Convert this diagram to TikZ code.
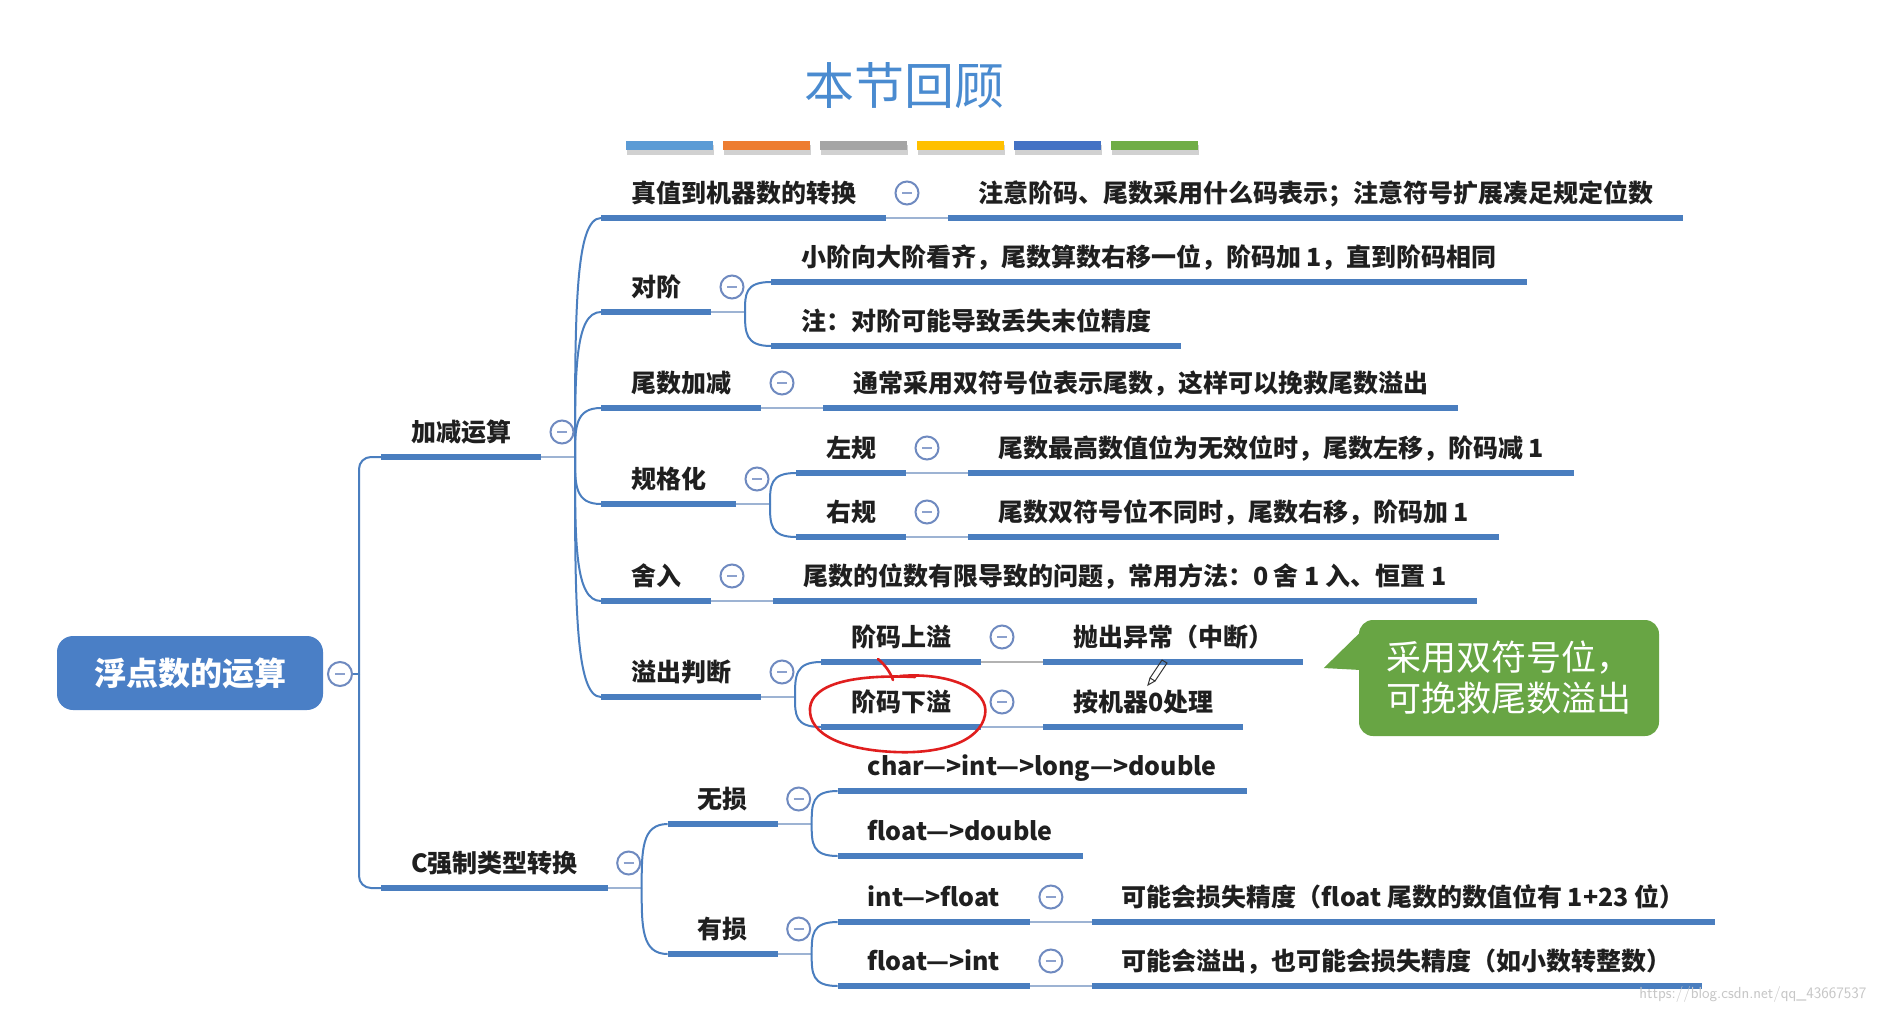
\documentclass[tikz,border=0pt]{standalone}
\usepackage{fontspec}
\newfontfamily\cjk{Noto Sans CJK SC}
\usetikzlibrary{calc}
\definecolor{lineblue}{HTML}{4A7EBF}
\definecolor{thinblue}{HTML}{9DB3D3}
\definecolor{foldcol}{HTML}{6F8AC0}
\definecolor{rootblue}{HTML}{4A7FC6}
\definecolor{titleblue}{HTML}{4A8BD0}
\definecolor{callgreen}{HTML}{68A544}
\definecolor{barA}{HTML}{5B9BD5}
\definecolor{barB}{HTML}{ED7D31}
\definecolor{barC}{HTML}{A5A5A5}
\definecolor{barD}{HTML}{FFC000}
\definecolor{barE}{HTML}{4472C4}
\definecolor{barF}{HTML}{70AD47}
\definecolor{redpen}{HTML}{E01E1E}
\newcommand\jct[1]{\coordinate (#1-j) at ([xshift=34pt]#1.south east); \draw[thinl] (#1.south east) -- (#1-j);}
\newcommand\brc[2]{\draw[conn] (#1-j) .. controls ($(#1-j)!0.6!(#1-j |- #2.south west)$) and (#1-j |- #2.south west) .. (#2.south west);}
\newcommand\lfc[2]{\draw[thinl] (#1.south east) -- (#2.south west);}
\newcommand\fldc[1]{\node[foldnode] (#1-f) at ([xshift=21pt]#1.east) {};}
\begin{document}
\begin{tikzpicture}[x=1pt,y=-1pt,
  topic/.style={anchor=south west, inner xsep=30pt, inner ysep=12pt, text height=22pt, text depth=4pt,
    font=\cjk\bfseries\fontsize{25}{30}\selectfont, text=black!88, outer sep=0pt},
  uline/.style={draw=lineblue, line width=5.5pt},
  conn/.style={draw=lineblue, line width=2pt},
  thinl/.style={draw=thinblue, line width=2.2pt},
  foldnode/.style={circle, draw=foldcol, fill=white, line width=2pt, minimum size=23pt, inner sep=0pt,
    path picture={\draw[foldcol!80, line width=1.4pt] ([xshift=-5pt]path picture bounding box.center) -- ([xshift=5pt]path picture bounding box.center);}},
  rootnode/.style={fill=rootblue, rounded corners=16pt, minimum width=266pt, minimum height=74pt, text=white,
    font=\cjk\bfseries\fontsize{32}{36}\selectfont},
  callnode/.style={fill=callgreen, rounded corners=14pt, minimum width=300pt, minimum height=116pt, text=white,
    align=left, font=\cjk\fontsize{35}{41}\selectfont}
]
\useasboundingbox (0,0) rectangle (1877,1013);
\fill[white] (0,0) rectangle (1877,1013);

% title and colour bars
\node[font=\cjk\fontsize{50}{56}\selectfont, text=titleblue] (title) at (904,86) {本节回顾};
\foreach \x/\c in {626/barA,723/barB,820/barC,917/barD,1014/barE,1111/barF}{
  \fill[black!18] (\x+1,145) rectangle +(87,10);
  \fill[\c] (\x,141) rectangle +(87,9);
}

% root
\node[rootnode] (root) at (190,673) {浮点数的运算};
\node[foldnode, minimum size=24pt] (root-f) at (340,674) {};
\coordinate (j0) at (359,674);

% level 1
\node[topic] (add) at (381,457) {加减运算};
\node[topic] (cast) at (381,888) {C强制类型转换};

% children of add
\node[topic, xshift=60pt] (tv) at (add.south east |- 0,218) {真值到机器数的转换};
\node[topic, xshift=60pt] (dj) at (add.south east |- 0,312) {对阶};
\node[topic, xshift=60pt] (ws) at (add.south east |- 0,408) {尾数加减};
\node[topic, xshift=60pt] (gg) at (add.south east |- 0,504) {规格化};
\node[topic, xshift=60pt] (sr) at (add.south east |- 0,601) {舍入};
\node[topic, xshift=60pt] (yc) at (add.south east |- 0,697) {溢出判断};

\node[topic, xshift=62pt] (tvL) at (tv.south east) {注意阶码、尾数采用什么码表示；注意符号扩展凑足规定位数};
\node[topic, xshift=60pt] (djA) at (dj.south east |- 0,282) {小阶向大阶看齐，尾数算数右移一位，阶码加 1，直到阶码相同};
\node[topic, xshift=60pt] (djB) at (dj.south east |- 0,346) {注：对阶可能导致丢失末位精度};
\node[topic, xshift=62pt] (wsL) at (ws.south east) {通常采用双符号位表示尾数，这样可以挽救尾数溢出};
\node[topic, xshift=60pt] (ggL) at (gg.south east |- 0,473) {左规};
\node[topic, xshift=60pt] (ggR) at (gg.south east |- 0,537) {右规};
\node[topic, xshift=62pt] (ggLl) at (ggL.south east) {尾数最高数值位为无效位时，尾数左移，阶码减 1};
\node[topic, xshift=62pt] (ggRl) at (ggR.south east) {尾数双符号位不同时，尾数右移，阶码加 1};
\node[topic, xshift=62pt] (srL) at (sr.south east) {尾数的位数有限导致的问题，常用方法：0 舍 1 入、恒置 1};
\node[topic, xshift=60pt] (ycU) at (yc.south east |- 0,662) {阶码上溢};
\node[topic, xshift=60pt] (ycD) at (yc.south east |- 0,727) {阶码下溢};
\node[topic, xshift=62pt] (ycUl) at (ycU.south east) {抛出异常（中断）};
\node[topic, xshift=62pt] (ycDl) at (ycD.south east) {按机器0处理};

% children of cast
\node[topic, xshift=60pt] (wl) at (cast.south east |- 0,824) {无损};
\node[topic, xshift=60pt] (yl) at (cast.south east |- 0,954) {有损};
\node[topic, xshift=60pt] (wlA) at (wl.south east |- 0,791) {char—>int—>long—>double};
\node[topic, xshift=60pt] (wlB) at (wl.south east |- 0,856) {float—>double};
\node[topic, xshift=60pt] (ylA) at (yl.south east |- 0,922) {int—>float};
\node[topic, xshift=60pt] (ylB) at (yl.south east |- 0,986) {float—>int};
\node[topic, xshift=62pt] (ylAl) at (ylA.south east) {可能会损失精度（float 尾数的数值位有 1+23 位）};
\node[topic, xshift=62pt] (ylBl) at (ylB.south east) {可能会溢出，也可能会损失精度（如小数转整数）};

% connectors
\draw[conn] (root-f.east) -- (j0);
\draw[conn, rounded corners=12pt] (j0) |- (add.south west);
\draw[conn, rounded corners=12pt] (j0) |- (cast.south west);

\jct{add}
\foreach \c in {tv,dj,ws,gg,sr,yc}{\brc{add}{\c}}
\jct{dj} \brc{dj}{djA} \brc{dj}{djB}
\jct{gg} \brc{gg}{ggL} \brc{gg}{ggR}
\jct{yc} \brc{yc}{ycU} \brc{yc}{ycD}
\jct{cast} \brc{cast}{wl} \brc{cast}{yl}
\jct{wl} \brc{wl}{wlA} \brc{wl}{wlB}
\jct{yl} \brc{yl}{ylA} \brc{yl}{ylB}
\lfc{tv}{tvL} \lfc{ws}{wsL} \lfc{ggL}{ggLl} \lfc{ggR}{ggRl} \lfc{sr}{srL}
\lfc{ycD}{ycDl} \lfc{ylA}{ylAl} \lfc{ylB}{ylBl}
\draw[thinl, draw=black!30] (ycU.south east) -- (ycUl.south west);

% underlines
\foreach \n in {add,cast,tv,tvL,dj,djA,djB,ws,wsL,gg,ggL,ggR,ggLl,ggRl,sr,srL,yc,ycU,ycD,ycUl,ycDl,wl,wlA,wlB,yl,ylA,ylB,ylAl,ylBl}
  {\draw[uline] (\n.south west) -- (\n.south east);}

% fold circles
\foreach \n in {add,cast,tv,dj,ws,gg,ggL,ggR,sr,yc,ycU,ycD,wl,yl,ylA,ylB}{\fldc{\n}}

% callout
\node[callnode] (note) at (1509,678) {采用双符号位，\\可挽救尾数溢出};
\fill[callgreen] ($(note.north west)+(2,12)$) -- ($(note.west)+(-35,-10)$) -- ($(note.west)+(2,-8)$) -- cycle;

% red hand-drawn mark
\draw[redpen, line width=2.6pt, line cap=round] (878,659) .. controls (886,666) and (890,672) .. (893,680);
\draw[redpen, line width=2.6pt, line cap=round] (900,676) .. controls (950,672) and (990,690) .. (985,715)
  .. controls (980,742) and (940,754) .. (895,752) .. controls (845,750) and (808,735) .. (810,708)
  .. controls (812,685) and (850,674) .. (915,677);

% pencil cursor
\draw[black!80, line width=1pt] (1150,678) -- (1162,660) -- (1167,663) -- (1155,681) -- cycle;
\draw[black!80, line width=1pt] (1150,678) -- (1148,685) -- (1155,681);

% watermark
\node[font=\sffamily\fontsize{16}{18}\selectfont, text=black!22, anchor=east] (wm) at (1870,994) {https://blog.csdn.net/qq\_43667537};
\end{tikzpicture}
\end{document}
